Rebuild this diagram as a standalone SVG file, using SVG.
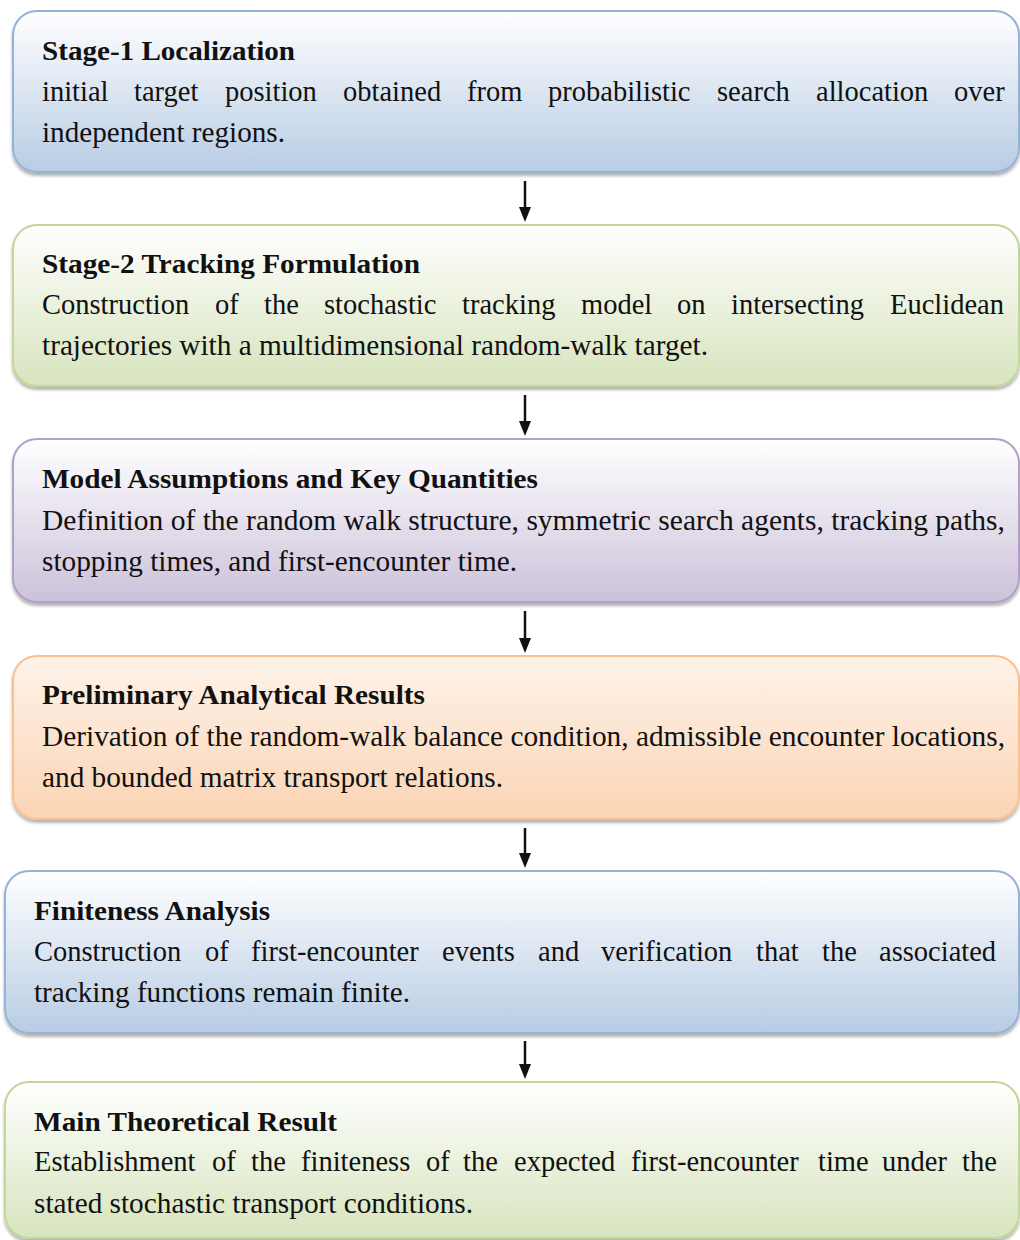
<svg xmlns="http://www.w3.org/2000/svg" width="1020" height="1240" viewBox="0 0 1020 1240">
<style>
.t{font-family:"Liberation Serif","Times New Roman",serif;font-weight:bold;font-size:27px;fill:#111}
.b{font-family:"Liberation Serif","Times New Roman",serif;font-size:28.5px;fill:#111}
.box{stroke-width:2}
.arr{stroke:#111;stroke-width:2.5;fill:none}
.head{fill:#111}
</style>
<defs>
<linearGradient id="gBlue" x1="0" y1="0" x2="0" y2="1"><stop offset="0" stop-color="#ffffff"/><stop offset="1" stop-color="#b8cce4"/></linearGradient>
<linearGradient id="gGreen" x1="0" y1="0" x2="0" y2="1"><stop offset="0" stop-color="#ffffff"/><stop offset="1" stop-color="#d7e4bd"/></linearGradient>
<linearGradient id="gPurple" x1="0" y1="0" x2="0" y2="1"><stop offset="0" stop-color="#ffffff"/><stop offset="1" stop-color="#ccc1da"/></linearGradient>
<linearGradient id="gOrange" x1="0" y1="0" x2="0" y2="1"><stop offset="0" stop-color="#fef3ea"/><stop offset="1" stop-color="#fbd4b4"/></linearGradient>
<filter id="sh" x="-5%" y="-10%" width="110%" height="125%"><feDropShadow dx="0" dy="3" stdDeviation="1.5" flood-color="#000" flood-opacity="0.3"/></filter>
</defs>

<g id="connectors">
<path class="arr" d="M525,181 V208"/><path class="head" d="M519,207 L531,207 L525,222 Z"/>
<path class="arr" d="M525,395 V422"/><path class="head" d="M519,421 L531,421 L525,436 Z"/>
<path class="arr" d="M525,611 V639"/><path class="head" d="M519,638 L531,638 L525,653 Z"/>
<path class="arr" d="M525,828 V854"/><path class="head" d="M519,853 L531,853 L525,868 Z"/>
<path class="arr" d="M525,1041 V1065"/><path class="head" d="M519,1064 L531,1064 L525,1079 Z"/>
</g>

<g id="stage1">
<rect class="box" x="13" y="11" width="1006" height="161" rx="24" fill="url(#gBlue)" stroke="#95b3d7" filter="url(#sh)"/>
<text class="t" x="42" y="60" textLength="253" lengthAdjust="spacingAndGlyphs">Stage-1 Localization</text>
<text class="b" y="101"><tspan x="42">initial</tspan><tspan x="134">target</tspan><tspan x="225">position</tspan><tspan x="343">obtained</tspan><tspan x="467">from</tspan><tspan x="548">probabilistic</tspan><tspan x="717">search</tspan><tspan x="816">allocation</tspan><tspan x="954">over</tspan></text>
<text class="b" x="42" y="142" textLength="243" lengthAdjust="spacingAndGlyphs">independent regions.</text>
</g>

<g id="stage2">
<rect class="box" x="13" y="225" width="1006" height="161" rx="24" fill="url(#gGreen)" stroke="#c3d69b" filter="url(#sh)"/>
<text class="t" x="42" y="273" textLength="378" lengthAdjust="spacingAndGlyphs">Stage-2 Tracking Formulation</text>
<text class="b" y="314"><tspan x="42">Construction</tspan><tspan x="215">of</tspan><tspan x="264">the</tspan><tspan x="324">stochastic</tspan><tspan x="462">tracking</tspan><tspan x="581">model</tspan><tspan x="677">on</tspan><tspan x="731">intersecting</tspan><tspan x="890">Euclidean</tspan></text>
<text class="b" x="42" y="355" textLength="666" lengthAdjust="spacingAndGlyphs">trajectories with a multidimensional random-walk target.</text>
</g>

<g id="model-assumptions">
<rect class="box" x="13" y="439" width="1006" height="163" rx="24" fill="url(#gPurple)" stroke="#b2a1c7" filter="url(#sh)"/>
<text class="t" x="42" y="488" textLength="496" lengthAdjust="spacingAndGlyphs">Model Assumptions and Key Quantities</text>
<text class="b" x="42" y="530" textLength="963" lengthAdjust="spacingAndGlyphs">Definition of the random walk structure, symmetric search agents, tracking paths,</text>
<text class="b" x="42" y="571" textLength="475" lengthAdjust="spacingAndGlyphs">stopping times, and first-encounter time.</text>
</g>

<g id="preliminary-results">
<rect class="box" x="13" y="656" width="1006" height="163" rx="24" fill="url(#gOrange)" stroke="#fac08f" filter="url(#sh)"/>
<text class="t" x="42" y="704" textLength="383" lengthAdjust="spacingAndGlyphs">Preliminary Analytical Results</text>
<text class="b" x="42" y="746" textLength="963" lengthAdjust="spacingAndGlyphs">Derivation of the random-walk balance condition, admissible encounter locations,</text>
<text class="b" x="42" y="787" textLength="461" lengthAdjust="spacingAndGlyphs">and bounded matrix transport relations.</text>
</g>

<g id="finiteness-analysis">
<rect class="box" x="5" y="871" width="1014" height="162" rx="24" fill="url(#gBlue)" stroke="#95b3d7" filter="url(#sh)"/>
<text class="t" x="34" y="920" textLength="236" lengthAdjust="spacingAndGlyphs">Finiteness Analysis</text>
<text class="b" y="961"><tspan x="34">Construction</tspan><tspan x="205">of</tspan><tspan x="251">first-encounter</tspan><tspan x="442">events</tspan><tspan x="538">and</tspan><tspan x="601">verification</tspan><tspan x="756">that</tspan><tspan x="822">the</tspan><tspan x="879">associated</tspan></text>
<text class="b" x="34" y="1002" textLength="376" lengthAdjust="spacingAndGlyphs">tracking functions remain finite.</text>
</g>

<g id="main-result">
<rect class="box" x="5" y="1082" width="1014" height="156" rx="24" fill="url(#gGreen)" stroke="#c3d69b" filter="url(#sh)"/>
<text class="t" x="34" y="1131" textLength="303" lengthAdjust="spacingAndGlyphs">Main Theoretical Result</text>
<text class="b" y="1171"><tspan x="34">Establishment</tspan><tspan x="212">of</tspan><tspan x="251">the</tspan><tspan x="301">finiteness</tspan><tspan x="426">of</tspan><tspan x="463">the</tspan><tspan x="514">expected</tspan><tspan x="631">first-encounter</tspan><tspan x="818">time</tspan><tspan x="882">under</tspan><tspan x="962">the</tspan></text>
<text class="b" x="34" y="1213" textLength="439" lengthAdjust="spacingAndGlyphs">stated stochastic transport conditions.</text>
</g>
</svg>
